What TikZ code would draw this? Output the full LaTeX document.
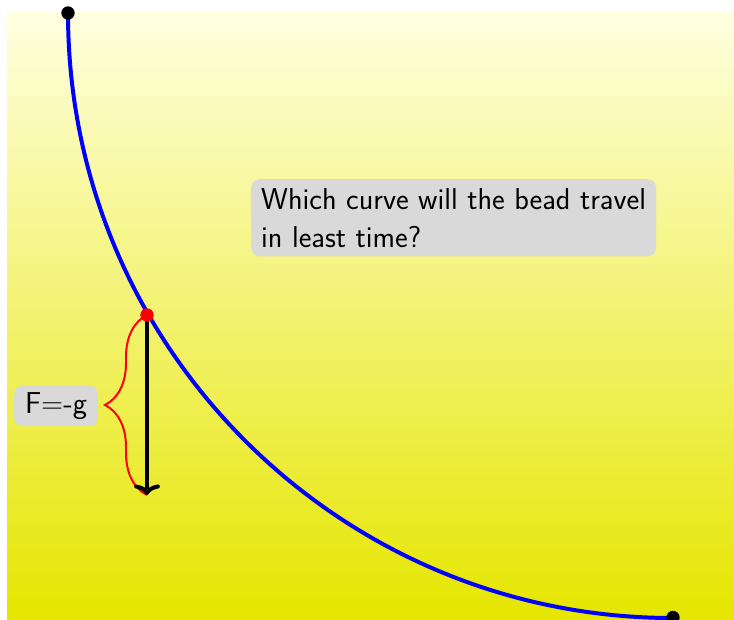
\documentclass[tikz,border=0pt]{standalone}
\usetikzlibrary{decorations.pathreplacing,arrows.meta}
\begin{document}
\begin{tikzpicture}[x=0.03cm,y=0.03cm,
  lbl/.style={fill=gray!30,rounded corners=0.25cm,font=\sffamily\fontsize{25.8}{32.3}\selectfont,inner xsep=0.3cm,inner ysep=0.27cm},
  dot/.style={circle,fill,inner sep=0pt,minimum size=0.4cm}]
\useasboundingbox (0,0) rectangle (734,619);
\shade[top color=yellow!12,bottom color=yellow!90!black] (7,0) rectangle (734,606);
\draw[blue,line width=3.4pt] (68,606) arc[start angle=180,end angle=270,radius=18.15cm];
\node[dot] (top) at (68,606) {};
\node[dot] (bot) at (673,1.5) {};
\node[lbl,anchor=north west,align=left] (q) at (251,440) {Which curve will the bead travel\\in least time?};
\coordinate (p) at (147,304);
\coordinate (pe) at (147,124);
\draw[red,line width=1.7pt,decorate,decoration={brace,amplitude=1.26cm}] (pe) -- (p);
\draw[line width=3.4pt,-{To[length=9pt,width=22pt]}] (p) -- (pe);
\node[dot,red] (bead) at (p) {};
\node[lbl,inner xsep=0.33cm,inner ysep=0.2cm] (f) at (56,213) {F=-g};
\end{tikzpicture}
\end{document}
